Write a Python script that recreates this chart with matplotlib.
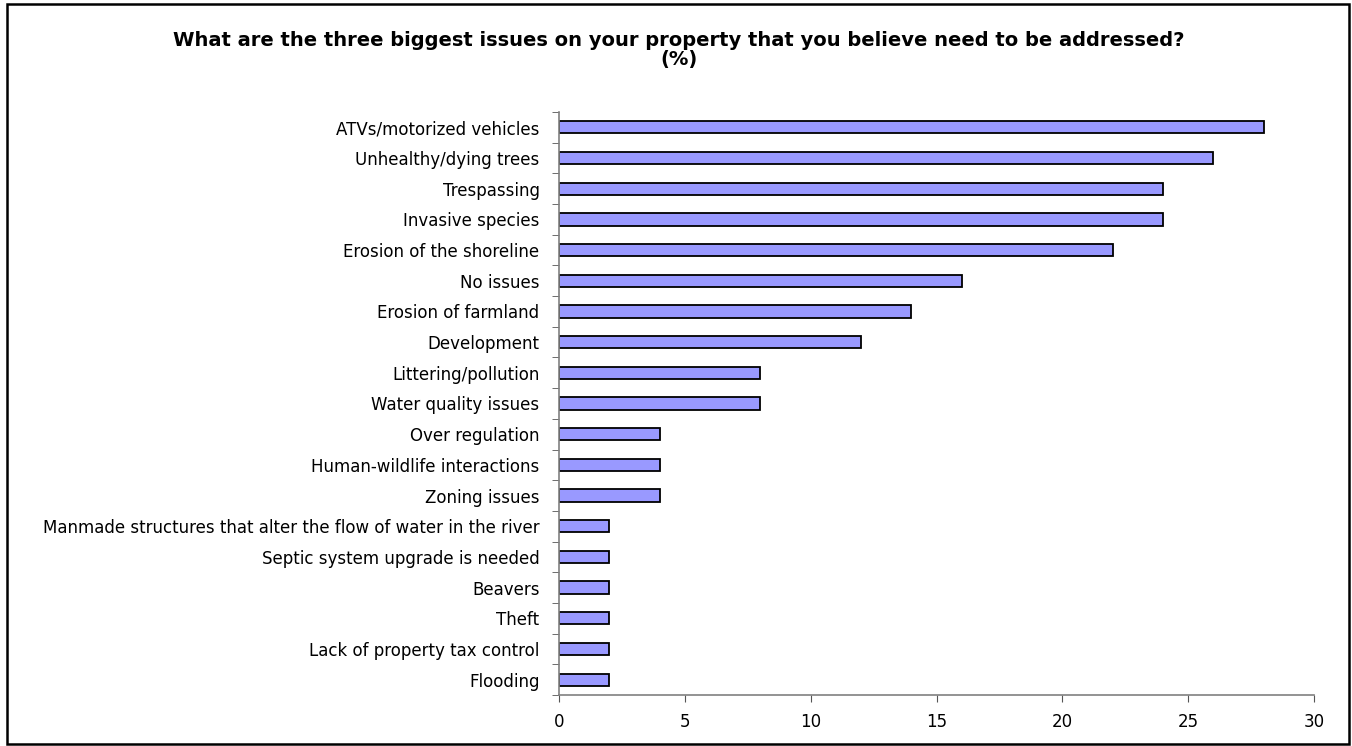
import numpy as np
import matplotlib.pyplot as plt
from matplotlib.patches import Rectangle

plt.rcParams['font.family'] = ['DejaVu Sans']

issues = [
    "ATVs/motorized vehicles",
    "Unhealthy/dying trees",
    "Trespassing",
    "Invasive species",
    "Erosion of the shoreline",
    "No issues",
    "Erosion of farmland",
    "Development",
    "Littering/pollution",
    "Water quality issues",
    "Over regulation",
    "Human-wildlife interactions",
    "Zoning issues",
    "Manmade structures that alter the flow of water in the river",
    "Septic system upgrade is needed",
    "Beavers",
    "Theft",
    "Lack of property tax control",
    "Flooding",
]
percent = [28, 26, 24, 24, 22, 16, 14, 12, 8, 8, 4, 4, 4, 2, 2, 2, 2, 2, 2]
x_ticks = [0, 5, 10, 15, 20, 25, 30]

fig = plt.figure(figsize=(13.52, 7.46), dpi=100)
# axes box: x 559..1314 px, y 112..695 px
ax = fig.add_axes([559 / 1352, 1 - 695 / 746, 755 / 1352, 583 / 746])

y = np.arange(len(issues))
ax.barh(y, percent, height=0.40, color="#9999FF", edgecolor="black", linewidth=1.3)
ax.set_ylim(len(issues) - 0.5, -0.5)
ax.set_xlim(0, 30)

ax.set_yticks(y)
ax.set_yticklabels(issues, fontsize=12)
ax.set_yticks(np.arange(-0.5, len(issues)), minor=True)
ax.tick_params(axis="y", which="major", length=0, pad=14)
ax.tick_params(axis="y", which="minor", length=5, color="#555555", direction="out")
ax.set_xticks(x_ticks)
ax.tick_params(axis="x", length=5, color="#555555", labelsize=12, pad=8)

for s in ["top", "right"]:
    ax.spines[s].set_visible(False)
for s in ["left", "bottom"]:
    ax.spines[s].set_color("#808080")
    ax.spines[s].set_linewidth(1.2)

fig.text(0.502, 1 - 40 / 746,
         "What are the three biggest issues on your property that you believe need to be addressed?",
         ha="center", va="center", fontsize=14, fontweight="bold")
fig.text(0.502, 1 - 60 / 746, "(%)", ha="center", va="center", fontsize=14, fontweight="bold")

fig.patches.append(Rectangle((7 / 1352, 2 / 746), 1342 / 1352, 740 / 746,
                             transform=fig.transFigure, fill=False,
                             edgecolor="black", linewidth=1.8))

fig.savefig("out.png", dpi=100)
